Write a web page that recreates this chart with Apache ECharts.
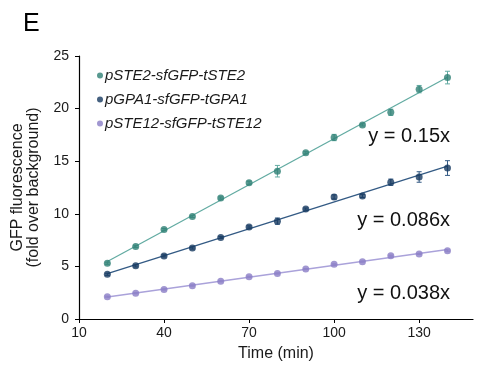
<!DOCTYPE html>
<html><head><meta charset="utf-8">
<script src="https://cdn.jsdelivr.net/npm/echarts@6/dist/echarts.min.js"></script>
<style>html,body{margin:0;padding:0;background:#fff}#c{width:482px;height:377px}</style>
</head><body><div id="c"></div>
<script>
const times = [20,30,40,50,60,70,80,90,100,110,120,130,140];
const seriesNames = ['pSTE2-sfGFP-tSTE2','pGPA1-sfGFP-tGPA1','pSTE12-sfGFP-tSTE12'];
const ste2 = [5.3,6.9,8.5,9.75,11.5,12.95,14.05,15.8,17.25,18.45,19.65,21.85,22.95];
const ste2Err = [0.1,0.1,0.1,0.1,0.1,0.15,0.55,0.1,0.3,0.1,0.3,0.35,0.6];
const gpa1 = [4.25,5.05,6.0,6.75,7.75,8.75,9.3,10.45,11.6,11.7,13.0,13.5,14.35];
const gpa1Err = [0.1,0.1,0.1,0.1,0.1,0.1,0.3,0.1,0.2,0.15,0.3,0.5,0.7];
const ste12 = [2.12,2.45,2.8,3.17,3.58,4.02,4.32,4.75,5.2,5.45,6.02,6.18,6.48];
const ste12Err = [0.05,0.05,0.05,0.05,0.05,0.05,0.05,0.05,0.05,0.05,0.05,0.05,0.08];
const slopeLabels = ['y = 0.15x','y = 0.086x','y = 0.038x'];
const xTicks = [10,40,70,100,130];

const markerColors = ['#2e8074','#173a60','#8a7dc6'];
const lineColors = ['#62aba2','#335a84','#aaa2da'];
const FONT = 'Liberation Sans, Arial, sans-serif';

function fit(ys){
  const n=times.length; let sx=0,sy=0,sxx=0,sxy=0;
  for(let i=0;i<n;i++){sx+=times[i];sy+=ys[i];sxx+=times[i]*times[i];sxy+=times[i]*ys[i];}
  const b=(n*sxy-sx*sy)/(n*sxx-sx*sx); const a=(sy-b*sx)/n;
  return [[times[0],a+b*times[0]],[times[n-1],a+b*times[n-1]]];
}
const allVals=[ste2,gpa1,ste12], allErr=[ste2Err,gpa1Err,ste12Err];
const series=[];
allVals.forEach((vals,k)=>{
  series.push({type:'line',data:fit(vals),symbol:'none',silent:true,z:1,
    lineStyle:{color:lineColors[k],width:1.3}});
  series.push({type:'custom',silent:true,z:2,
    data:times.map((t,i)=>[t,vals[i]-allErr[k][i],vals[i]+allErr[k][i]]),
    renderItem:(params,api)=>{
      const lo=api.coord([api.value(0),api.value(1)]);
      const hi=api.coord([api.value(0),api.value(2)]);
      const w=2.5;
      return {type:'group',children:[
        {type:'line',shape:{x1:lo[0],y1:lo[1],x2:hi[0],y2:hi[1]},style:{stroke:lineColors[k],lineWidth:1}},
        {type:'line',shape:{x1:lo[0]-w,y1:lo[1],x2:lo[0]+w,y2:lo[1]},style:{stroke:lineColors[k],lineWidth:1}},
        {type:'line',shape:{x1:hi[0]-w,y1:hi[1],x2:hi[0]+w,y2:hi[1]},style:{stroke:lineColors[k],lineWidth:1}}
      ]};
    }});
  series.push({type:'scatter',name:seriesNames[k],data:times.map((t,i)=>[t,vals[i]]),
    symbol:'circle',symbolSize:7,z:3,itemStyle:{color:markerColors[k]}});
});

const chart=echarts.init(document.getElementById('c'),null,{renderer:'canvas'});
chart.setOption({
  animation:false,
  textStyle:{fontFamily:FONT},
  grid:{left:79,right:9,top:56,bottom:58},
  legend:{data:seriesNames.map((n,k)=>({name:n,icon:'circle',itemStyle:{color:markerColors[k]}})),
    orient:'vertical',left:92,top:63,itemWidth:6,itemHeight:6,itemGap:9,
    textStyle:{fontStyle:'italic',fontSize:15,color:'#1a1a1a',padding:[0,0,0,-3]},selectedMode:false},
  xAxis:{type:'value',min:10,max:149,interval:30,
    name:'Time (min)',nameLocation:'middle',nameGap:27,nameTextStyle:{fontSize:16,color:'#1a1a1a'},
    axisLine:{lineStyle:{color:'#000',width:1.2}},axisTick:{length:4,lineStyle:{color:'#000'}},
    axisLabel:{fontSize:14,color:'#1a1a1a',margin:7,showMaxLabel:false,
      formatter:v=>xTicks.includes(v)?String(v):''},
    splitLine:{show:false}},
  yAxis:{type:'value',min:0,max:25,interval:5,
    name:'GFP fluorescence\n(fold over background)',nameLocation:'middle',nameRotate:90,nameGap:37,
    nameTextStyle:{fontSize:16,color:'#1a1a1a',lineHeight:16},
    axisLine:{show:true,lineStyle:{color:'#000',width:1.2}},axisTick:{show:true,length:4,lineStyle:{color:'#000'}},
    axisLabel:{fontSize:14,color:'#1a1a1a',margin:10},splitLine:{show:false}},
  graphic:[
    {type:'text',left:23,top:12,style:{text:'E',fontSize:25,fill:'#000',fontFamily:FONT}},
    {type:'text',right:32,top:126,style:{text:slopeLabels[0],fontSize:20,fill:'#111',fontFamily:FONT}},
    {type:'text',right:32,top:210,style:{text:slopeLabels[1],fontSize:20,fill:'#111',fontFamily:FONT}},
    {type:'text',right:32,top:283,style:{text:slopeLabels[2],fontSize:20,fill:'#111',fontFamily:FONT}}
  ],
  series:series
});
</script></body></html>
